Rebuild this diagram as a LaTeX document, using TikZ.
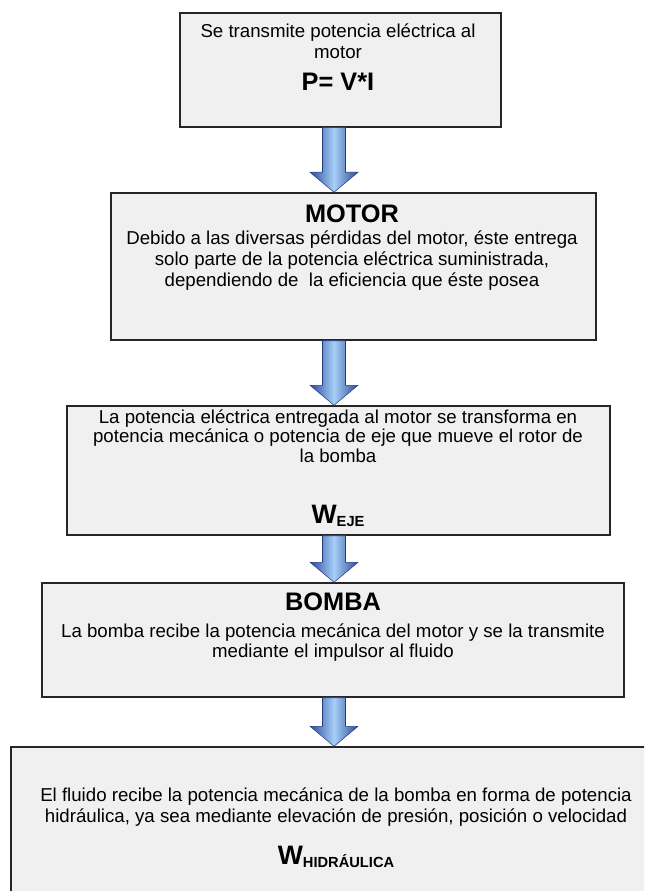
\documentclass[tikz,border=0pt]{standalone}
\usepackage{fontspec}
\setmainfont{Liberation Sans}
\usetikzlibrary{positioning,calc}
\definecolor{cajagris}{HTML}{F0F0F0}
\definecolor{azuloscuro}{HTML}{2C4A9E}
\definecolor{azulclaro}{HTML}{A6CFF7}
\newcommand{\Wsub}[1]{{\fontsize{20}{22}\selectfont\bfseries W}\raisebox{-2.5pt}{\fontsize{11}{12}\selectfont\bfseries #1}}
\begin{document}
\begin{tikzpicture}[x=0.75pt, y=-0.75pt, line join=miter,
	caja/.style={draw=black!85, line width=1.1pt, fill=cajagris, inner sep=0pt},
	texto/.style={align=center, inner sep=0pt, anchor=north},
	titulo/.style={inner sep=0pt, font=\fontsize{19}{22}\selectfont\bfseries},
	flecha/.style={left color=azuloscuro, right color=azuloscuro, middle color=azulclaro, draw=azuloscuro!80!black, line width=0.4pt}]
	\useasboundingbox (0,0) rectangle (644,891);
	\clip (0,0) rectangle (644,891);
	\coordinate (ax) at (334,0);
	% cajas
	\foreach \n/\xa/\ya/\xb/\yb in {b1/180/13/501/127, b2/111/193/596/340, b3/67/406/610/535, b4/42/583/624/697, b5/11/747/661/905}
		\node[caja, minimum width={(\xb-\xa)*0.75pt}, minimum height={(\yb-\ya)*0.75pt}] (\n) at ({(\xa+\xb)/2},{(\ya+\yb)/2}) {};
	% textos
	\node[texto, font=\fontsize{14}{16}\selectfont] (t1) at (338,23) {Se transmite potencia eléctrica al\\motor};
	\node[titulo] (p1) at (338,82) {P= V*I};
	\node[titulo] (m2) at (352,214) {MOTOR};
	\node[texto, font=\fontsize{14}{16}\selectfont] (t2) at (352,230) {Debido a las diversas pérdidas del motor, éste entrega\\solo parte de la potencia eléctrica suministrada,\\dependiendo de\ \ la eficiencia que éste posea};
	\node[texto, font=\fontsize{14}{14.8}\selectfont] (t3) at (338,409) {La potencia eléctrica entregada al motor se transforma en\\potencia mecánica o potencia de eje que mueve el rotor de\\la bomba};
	\node[inner sep=0pt] (w3) at (338,516) {\Wsub{EJE}};
	\node[titulo] (m4) at (333,602) {BOMBA};
	\node[texto, font=\fontsize{14}{15.5}\selectfont] (t4) at (333,623) {La bomba recibe la potencia mecánica del motor y se la transmite\\mediante el impulsor al fluido};
	\node[texto, font=\fontsize{14}{16}\selectfont] (t5) at (336,787) {El fluido recibe la potencia mecánica de la bomba en forma de potencia\\hidráulica, ya sea mediante elevación de presión, posición o velocidad};
	\node[inner sep=0pt] (w5) at (336,857) {\Wsub{HIDRÁULICA}};
	% flechas
	\foreach \a/\b in {b1/b2, b2/b3, b3/b4, b4/b5}
		\shadedraw[flecha] ($(\a.south -| ax)+(-11.5,0)$) -- ($(\b.north -| ax)+(-11.5,-20)$) -- ($(\b.north -| ax)+(-24,-20)$) -- (\b.north -| ax) -- ($(\b.north -| ax)+(24,-20)$) -- ($(\b.north -| ax)+(11.5,-20)$) -- ($(\a.south -| ax)+(11.5,0)$) -- cycle;
\end{tikzpicture}
\end{document}
